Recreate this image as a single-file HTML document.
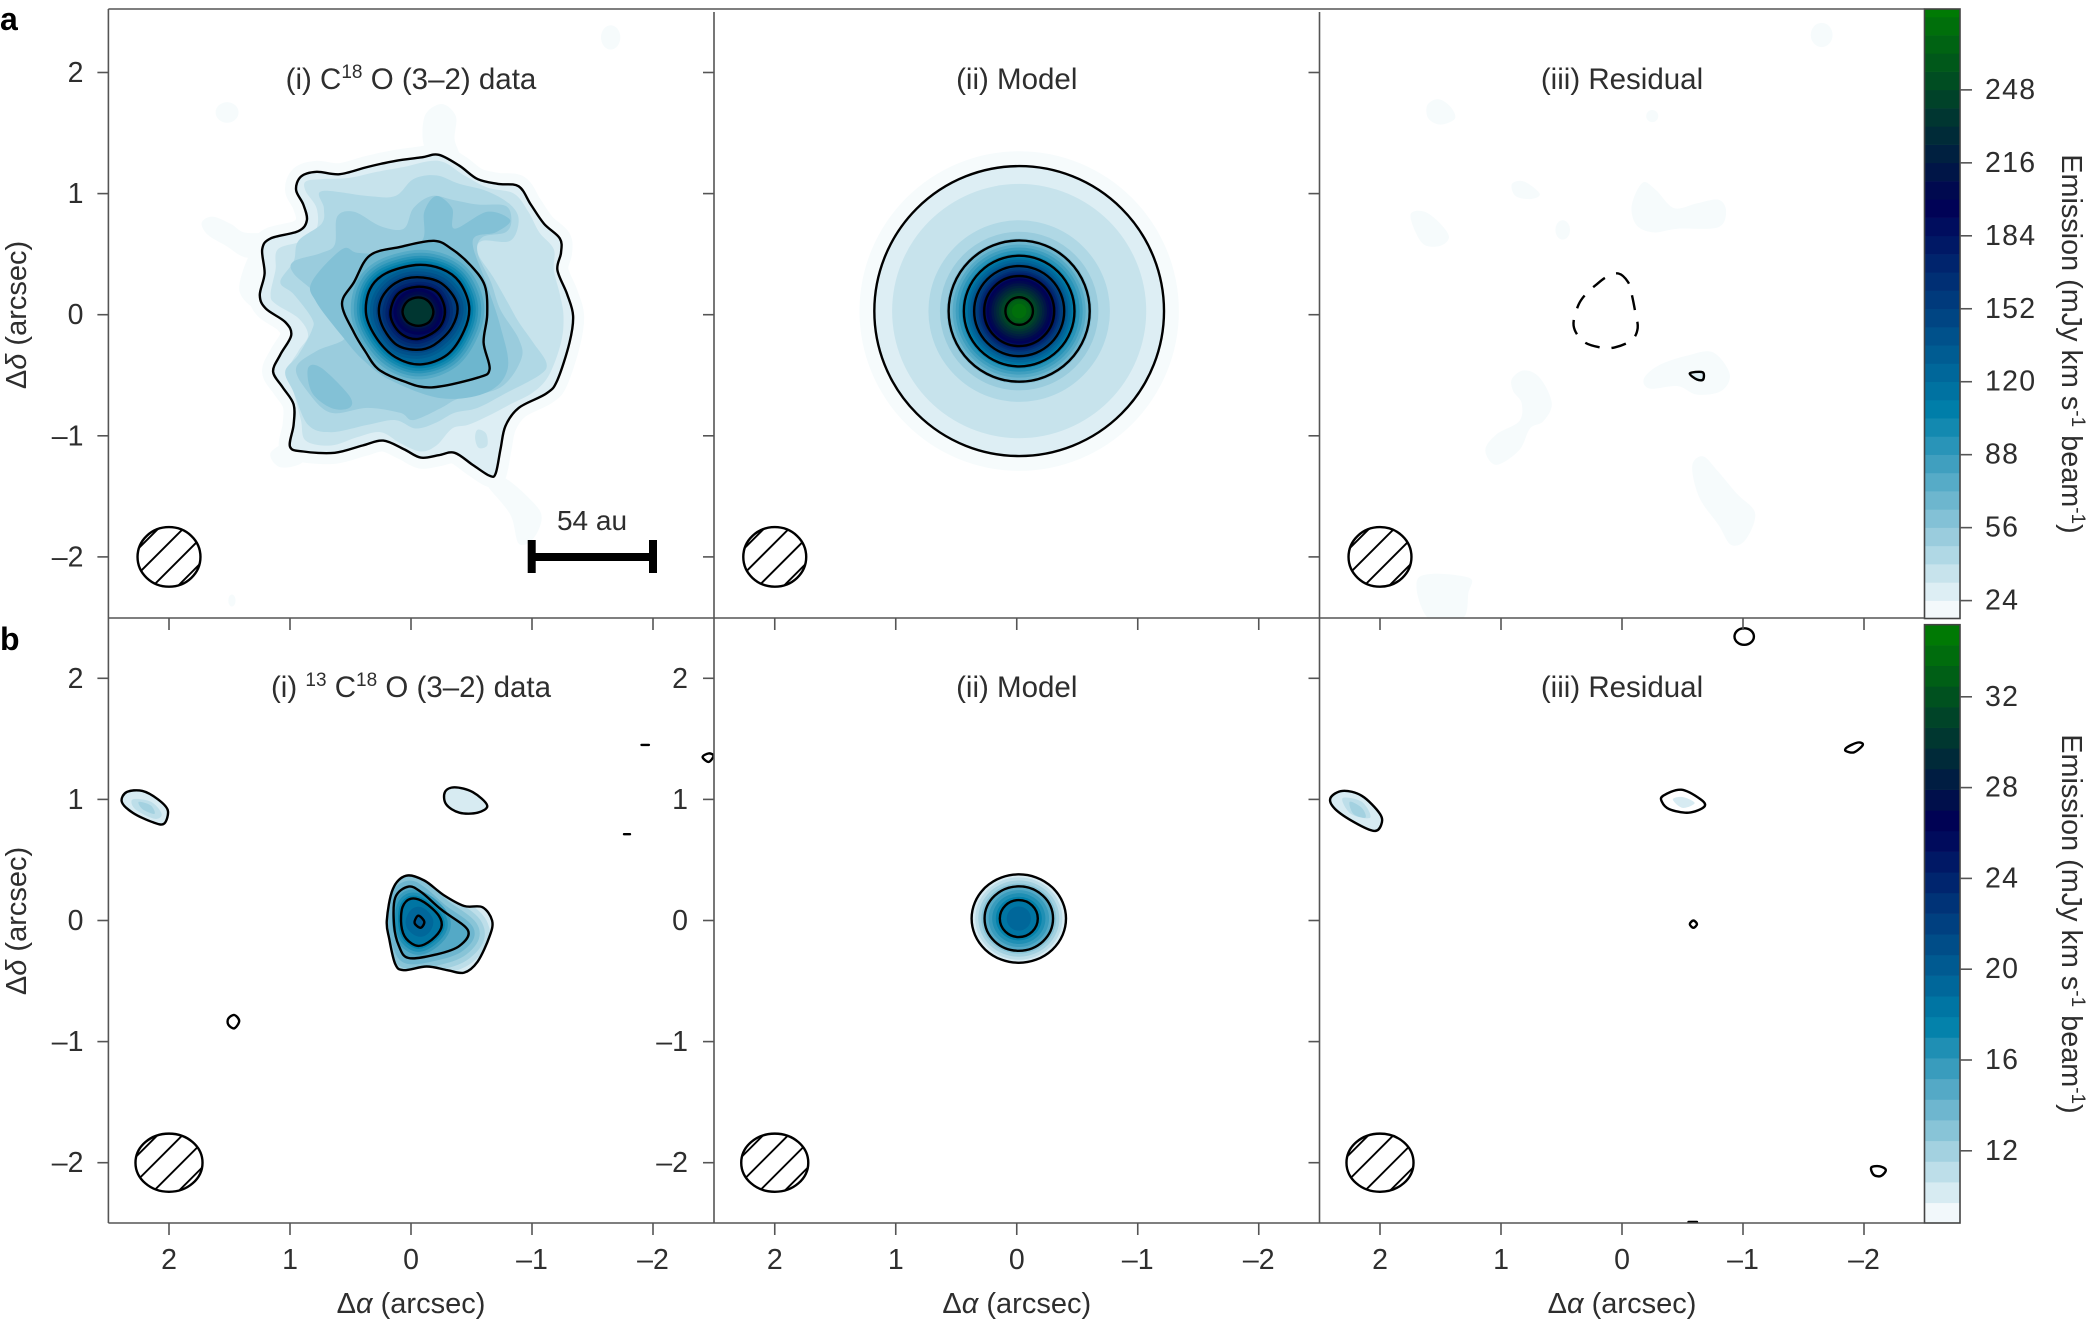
<!DOCTYPE html>
<html lang="en">
<head>
<meta charset="utf-8">
<title>C18O and 13C18O emission maps</title>
<style>
html,body{margin:0;padding:0;background:#fff;}
svg{display:block;}
text{font-family:"Liberation Sans","DejaVu Sans",sans-serif;fill:#2e2e2e;}
.tick{font-size:28.5px;}
.cbar-tick{font-size:28.5px;letter-spacing:1.3px;}
.title{font-size:29.5px;text-anchor:middle;}
.axis-title{font-size:29px;text-anchor:middle;}
.cbar-title{font-size:28.8px;text-anchor:middle;}
.sup{font-size:19px;}
</style>
</head>
<body>
<svg id="figure" xmlns="http://www.w3.org/2000/svg" width="2100" height="1326" viewBox="0 0 2100 1326">
<rect x="0" y="0" width="2100" height="1326" fill="#ffffff"/>
<defs id="defs"></defs>
<g id="marks"></g>
<g id="frames"></g>
<g id="labels"></g>

<text x="0" y="30" font-size="32" font-weight="bold" style="fill:#000">a</text>
<text x="0" y="650" font-size="32" font-weight="bold" style="fill:#000">b</text>

<text class="title" x="411" y="89">(i) C<tspan class="sup" dy="-11">18</tspan><tspan dy="11"> O (3–2) data</tspan></text>
<text class="title" x="1016.75" y="89">(ii) Model</text>
<text class="title" x="1622" y="89">(iii) Residual</text>
<text class="title" x="411" y="697">(i) <tspan class="sup" dy="-11">13</tspan><tspan dy="11"> C</tspan><tspan class="sup" dy="-11">18</tspan><tspan dy="11"> O (3–2) data</tspan></text>
<text class="title" x="1016.75" y="697">(ii) Model</text>
<text class="title" x="1622" y="697">(iii) Residual</text>

<text class="axis-title" transform="translate(26,315) rotate(-90)">Δ<tspan font-style="italic">δ</tspan> (arcsec)</text>
<text class="axis-title" transform="translate(26,921) rotate(-90)">Δ<tspan font-style="italic">δ</tspan> (arcsec)</text>
<text class="axis-title" x="411" y="1313">Δ<tspan font-style="italic">α</tspan> (arcsec)</text>
<text class="axis-title" x="1016.75" y="1313">Δ<tspan font-style="italic">α</tspan> (arcsec)</text>
<text class="axis-title" x="1622" y="1313">Δ<tspan font-style="italic">α</tspan> (arcsec)</text>

<text class="cbar-title" transform="translate(2062,344) rotate(90)">Emission (mJy km s<tspan class="sup" dy="-10">-1</tspan><tspan dy="10"> beam</tspan><tspan class="sup" dy="-10">-1</tspan><tspan dy="10">)</tspan></text>
<text class="cbar-title" transform="translate(2062,924) rotate(90)">Emission (mJy km s<tspan class="sup" dy="-10">-1</tspan><tspan dy="10"> beam</tspan><tspan class="sup" dy="-10">-1</tspan><tspan dy="10">)</tspan></text>

<g>
<text x="592" y="530" text-anchor="middle" font-size="28">54 au</text>
<rect x="531.7" y="553" width="121.3" height="8" fill="#000"/>
<rect x="527.7" y="540" width="8" height="33" fill="#000"/>
<rect x="649" y="540" width="8" height="33" fill="#000"/>
</g>
</svg>

<script>
// ---- Axis tick values and labels ----
const offsetTicks = [2, 1, 0, -1, -2];
const offsetTickLabels = ["2", "1", "0", "–1", "–2"];
const cbarATicks = [24, 56, 88, 120, 152, 184, 216, 248];
const cbarBTicks = [12, 16, 20, 24, 28, 32];

// ---- Colour-bar band edges (mJy km/s/beam) ----
const cbarAEdges = [16,24,32,40,48,56,64,72,80,88,96,104,112,120,128,136,144,152,160,168,176,184,192,200,208,216,224,232,240,248,256,264,272,280,288];
const cbarBEdges = [8.8,9.71,10.62,11.53,12.44,13.35,14.26,15.17,16.08,16.99,17.9,18.81,19.72,20.63,21.54,22.45,23.36,24.27,25.18,26.09,27,27.91,28.82,29.73,30.64,31.55,32.46,33.37,34.28,35.19];

// ---- Synthesised beam (arcsec): centre, semi-axes ----
const beamA = [2, -2, 0.26, 0.246];
const beamB = [2, -2, 0.277, 0.24];

// ---- Row a, data panel contours [alpha, delta] in arcsec ----
const aDataOuter = [[-.23,1.32],[-.40,1.23],[-.55,1.12],[-.72,1.08],[-.89,1.06],[-.99,.91],[-1.10,.75],[-1.23,.63],[-1.24,.51],[-1.21,.37],[-1.29,.17],[-1.34,-.01],[-1.31,-.23],[-1.21,-.54],[-1.12,-.65],[-.89,-.77],[-.78,-.92],[-.74,-1.11],[-.70,-1.31],[-.65,-1.33],[-.51,-1.24],[-.36,-1.14],[-.23,-1.16],[-.08,-1.18],[.06,-1.11],[.23,-1.04],[.40,-1.08],[.63,-1.14],[.89,-1.13],[1.00,-1.09],[.97,-.91],[.97,-.74],[1.06,-.60],[1.14,-.47],[1.08,-.33],[.99,-.17],[1.04,-.06],[1.20,.05],[1.25,.16],[1.21,.34],[1.23,.54],[1.16,.63],[.93,.69],[.86,.78],[.89,.91],[.95,1.03],[.91,1.14],[.78,1.18],[.59,1.16],[.36,1.22],[.13,1.27],[-.09,1.30]];
const aDataLevel32 = [[-.23,1.27],[-.44,1.15],[-.63,1.05],[-.85,1.00],[-.97,.85],[-1.06,.68],[-1.18,.54],[-1.18,.37],[-1.23,.17],[-1.26,-.01],[-1.24,-.23],[-1.14,-.50],[-1.01,-.64],[-.82,-.74],[-.63,-.84],[-.47,-.91],[-.34,-.94],[-.21,-1.08],[-.08,-1.13],[.09,-1.06],[.25,-.97],[.44,-1.01],[.66,-1.08],[.87,-1.04],[.91,-.87],[.97,-.64],[1.02,-.47],[.93,-.30],[.85,-.17],[.93,-.03],[1.12,.09],[1.16,.17],[1.12,.37],[1.10,.54],[.89,.61],[.78,.71],[.78,.88],[.87,1.02],[.87,1.10],[.74,1.12],[.51,1.13],[.28,1.18],[.06,1.22]];
const aDataPatch32 = [[-.55,-.95],[-.62,-.98],[-.63,-1.08],[-.56,-1.10],[-.53,-1.02]];
const aDataLevel40 = [[.74,1.02],[.36,.98],[.13,.98],[-.02,1.12],[-.21,1.15],[-.40,1.08],[-.63,1.02],[-.82,.91],[-.89,.78],[-.82,.61],[-.59,.61],[-.55,.51],[-.68,.31],[-.80,.10],[-.89,-.06],[-1.01,-.23],[-1.12,-.40],[-1.06,-.50],[-.78,-.65],[-.55,-.77],[-.36,-.81],[-.21,-.89],[-.04,-.94],[.13,-.87],[.36,-.91],[.66,-.97],[.85,-.91],[.97,-.64],[1.04,-.47],[.93,-.33],[.82,-.13],[.82,-.03],[.97,.17],[1.08,.27],[.97,.44],[.93,.61],[.74,.75],[.72,.88]];
const aDataLevel48 = [[.61,.81],[.47,.85],[.25,.73],[.06,.71],[-.02,.88],[-.17,.98],[-.34,.95],[-.55,.91],[-.78,.90],[-.83,.78],[-.78,.68],[-.59,.64],[-.55,.51],[-.66,.27],[-.74,.04],[-.89,-.20],[-.91,-.37],[-.74,-.60],[-.40,-.69],[-.25,-.77],[-.02,-.87],[.09,-.81],[.36,-.77],[.66,-.81],[.85,-.64],[.95,-.44],[.78,-.30],[.55,-.20],[.59,-.06],[.78,.17],[.97,.34],[.97,.44],[.74,.51],[.63,.58]];
const aDataLevel56 = [[-.11,.85],[-.21,.98],[-.34,.88],[-.36,.71],[-.63,.85],[-.82,.78],[-.70,.68],[-.51,.61],[-.63,.24],[-.74,-.10],[-.80,-.44],[-.63,-.64],[-.25,-.69],[.17,-.54],[.40,-.37],[.55,-.20],[.78,.10],[.82,.27],[.57,.54],[.44,.51],[.17,.51],[-.09,.61]];
const aDataPatch56 = [[.85,-.44],[.74,-.44],[.51,-.67],[.51,-.77],[.66,-.77],[.82,-.64]];
const aDataInner = [[-.19,.61],[-.34,.54],[-.49,.41],[-.61,.24],[-.63,0],[-.60,-.23],[-.65,-.45],[-.55,-.52],[-.17,-.60],[.06,-.55],[.27,-.45],[.38,-.30],[.47,-.15],[.57,.09],[.47,.27],[.34,.49],[.09,.56]];
const aDataRing1 = [[-.04,.41],[-.25,.38],[-.40,.27],[-.48,.07],[-.44,-.13],[-.30,-.33],[-.08,-.41],[.13,-.35],[.28,-.20],[.37,0],[.34,.21],[.21,.34]];
const aDataRing2 = [[-.05,.31],[-.25,.26],[-.38,.09],[-.34,-.10],[-.19,-.25],[-.04,-.29],[.13,-.24],[.25,-.06],[.25,.12],[.13,.26]];
const aDataRing3 = [[-.05,.23],[-.21,.19],[-.28,.04],[-.23,-.11],[-.06,-.20],[.09,-.15],[.17,0],[.11,.17]];
const aDataRing4 = [[-.06,.143],[-.145,.11],[-.185,.025],[-.15,-.06],[-.06,-.092],[.03,-.06],[.07,.025],[.03,.11]];
const aDataFaint = [
  [[-.13,1.35],[-.11,1.63],[-.25,1.74],[-.37,1.64],[-.36,1.45],[-.40,1.27]],
  [[1.73,.76],[1.64,.81],[1.49,.75],[1.38,.68],[1.16,.66],[1.12,.54],[1.35,.47],[1.53,.57],[1.68,.66]],
  [[1.42,.21],[1.27,.58],[1.10,.30],[1.23,.04]],
  [[1.16,-1.14],[.97,-1.04],[.89,-1.21],[1.08,-1.26]],
  [[-.63,-1.33],[-.78,-1.35],[-1.01,-1.55],[-1.08,-1.68],[-1.01,-1.85],[-.89,-1.89],[-.82,-1.65],[-.63,-1.41]]
];
const aDataFaintBlobs = [[1.52,1.67,.095,.085],[-1.65,2.29,.08,.10],[1.48,-2.36,.03,.05]];

// ---- Row a, model: band [level, radius] and black contour radii, arcsec ----
const aModelCentre = [-.02, .03];
const aModelBandLevels = [16,24,32,40,48,56,64,72,80,88,96,104,112,120,128,136,144,152,160,168,176,184,192,200,208,216,224,232,240,248,256,264,272];
const aModelBandRadii = [1.32,1.20,1.05,.75,.655,.60,.575,.55,.525,.50,.475,.457,.44,.425,.405,.39,.372,.355,.335,.32,.305,.289,.27,.25,.23,.21,.19,.17,.15,.13,.114,.09,.06];
const aModelContours = [1.197,.583,.457,.372,.289,.114];

// ---- Row a, residual ----
const aResidBlobs = [[-1.65,2.31,.09,.10],[-.25,1.64,.05,.05],[.49,.70,.06,.08]];
const aResidPatches = [
  [[1.745,.835],[1.63,.85],[1.50,.75],[1.43,.64],[1.50,.57],[1.63,.575],[1.71,.69]],
  [[.91,1.08],[.81,1.10],[.68,1.00],[.75,.955],[.88,.98]],
  [[1.61,1.73],[1.52,1.78],[1.42,1.72],[1.38,1.62],[1.50,1.57],[1.60,1.62]],
  [[-.08,.90],[-.17,1.09],[-.28,1.03],[-.43,.88],[-.62,.92],[-.80,.95],[-.86,.85],[-.79,.72],[-.46,.71],[-.26,.68],[-.12,.74]],
  [[-.18,-.53],[-.30,-.42],[-.53,-.34],[-.75,-.31],[-.89,-.49],[-.82,-.63],[-.62,-.66],[-.46,-.59],[-.23,-.61]],
  [[.91,-.53],[.81,-.46],[.68,-.52],[.58,-.73],[.65,-.88],[.76,-.94],[.85,-1.12],[1.04,-1.24],[1.13,-1.12],[1.04,-.99],[.85,-.88],[.83,-.73],[.90,-.63]],
  [[-.58,-1.25],[-.67,-1.17],[-.79,-1.29],[-.95,-1.48],[-1.10,-1.64],[-1.02,-1.86],[-.90,-1.90],[-.80,-1.74],[-.64,-1.51]],
  [[1.68,-2.17],[1.27,-2.17],[1.27,-2.30],[1.32,-2.51],[1.60,-2.51]]
];
const aResidPeak = [[-.56,-.485],[-.665,-.475],[-.67,-.535],[-.62,-.535]];
const aResidDashed = [[.03,.34],[-.05,.27],[-.08,.17],[-.11,.02],[-.13,-.11],[-.08,-.21],[.06,-.27],[.18,-.27],[.32,-.22],[.40,-.09],[.36,.08],[.29,.18],[.21,.25],[.13,.31]];

// ---- Row b, data ----
const bDataOuter = [[.04,.37],[-.11,.33],[-.27,.21],[-.44,.12],[-.59,.11],[-.67,0],[-.65,-.13],[-.55,-.34],[-.44,-.43],[-.30,-.41],[-.13,-.38],[.06,-.41],[.13,-.36],[.18,-.15],[.20,0],[.15,.26]];
const bDataRing1 = [[.02,.28],[-.09,.23],[-.25,.09],[-.47,-.08],[-.40,-.21],[-.21,-.28],[.02,-.31],[.10,-.21],[.14,-.04],[.13,.19]];
const bDataRing2 = [[0,.18],[-.11,.15],[-.23,.04],[-.25,-.06],[-.17,-.16],[-.06,-.21],[.04,-.15],[.08,-.04],[.07,.11]];
const bDataRing3 = [[-.06,.04],[-.11,-.01],[-.08,-.06],[-.03,-.02]];
const bDataBlobLeft = [[2.35,1.06],[2.22,1.07],[2.09,1.00],[2.01,.91],[2.04,.80],[2.13,.81],[2.30,.89],[2.39,.98]];
const bDataBlobLeftMid = [[2.30,1.0],[2.15,.98],[2.06,.88],[2.12,.84],[2.28,.92]];
const bDataBlobLeftCore = [[2.25,.98],[2.15,.95],[2.12,.88],[2.22,.92]];
const bDataBlobRight = [[-.28,1.06],[-.36,1.10],[-.51,1.06],[-.63,.95],[-.55,.89],[-.40,.89],[-.29,.96]];
const bDataSmall = [
  [[1.51,-.81],[1.46,-.78],[1.42,-.83],[1.46,-.89],[1.51,-.86]],
  [[-2.41,1.35],[-2.46,1.38],[-2.50,1.36],[-2.46,1.31]],
  [[-1.905,1.45],[-1.966,1.45]],
  [[-1.76,.713],[-1.81,.713]]
];

// ---- Row b, model ----
const bModelCentre = [-.017, .016];
const bModelBandLevels = [9.8,10.7,11.6,12.5,13.4,14.3,15.2,16.1,17.0,17.9,18.9];
const bModelBandRx = [.39,.36,.335,.31,.29,.283,.25,.22,.19,.157,.10];
const bModelBandRy = [.365,.34,.315,.29,.275,.266,.235,.21,.18,.153,.10];
const bModelContourRx = [.39,.283,.157];
const bModelContourRy = [.365,.266,.153];

// ---- Row b, residual ----
const bResidBlobLeft = [[2.41,1.01],[2.31,1.07],[2.15,1.03],[2.0,.88],[1.99,.79],[2.05,.74],[2.21,.81],[2.37,.92]];
const bResidBlobLeftMid = [[2.31,1.01],[2.15,.98],[2.08,.85],[2.24,.88]];
const bResidBlobLeftCore = [[2.25,.98],[2.15,.93],[2.12,.85],[2.22,.88]];
const bResidBlobRight = [[-.34,1.03],[-.49,1.08],[-.65,1.0],[-.68,.94],[-.55,.89],[-.39,.92],[-.33,.98]];
const bResidBlobRightCore = [[-.42,1.0],[-.5,1.02],[-.6,.97],[-.5,.93]];
const bResidSmall = [
  [[-1.01,2.413],[-1.067,2.393],[-1.09,2.345],[-1.067,2.297],[-1.01,2.277],[-.953,2.297],[-.93,2.345],[-.953,2.393]],
  [[-1.86,1.43],[-1.95,1.47],[-1.99,1.45],[-1.92,1.39],[-1.85,1.40]],
  [[-.59,0],[-.62,-.03],[-.59,-.06],[-.56,-.03]],
  [[-2.06,-2.04],[-2.13,-2.03],[-2.18,-2.06],[-2.14,-2.11],[-2.08,-2.10]],
  [[-.55,-2.49],[-.62,-2.49]]
];

// ---- Layout ----
const SVGNS = "http://www.w3.org/2000/svg";
const marks = document.getElementById("marks");
const frames = document.getElementById("frames");
const labels = document.getElementById("labels");
const defs = document.getElementById("defs");
const SX = 121, SY = 121.1;
const columnCentres = [411, 1016.75, 1622];
const rowCentres = [314.7, 920.5];
const LEFT = 108.4, DIV1 = 714, DIV2 = 1319.5, CBL = 1924.5, CBR = 1960;
const TOP = 9, MID = 618, BOTTOM = 1223;
const AXIS = "#555555";

function xAxis(col, a) { return columnCentres[col] - a * SX; }
function yAxis(row, d) { return rowCentres[row] - d * SY; }
function cbarAY(v) { return 600.6 - (v - 24) * 2.28; }
function cbarBY(v) { return 1150.8 - (v - 12) * 22.7; }

function ocean(x) {
  const r = Math.max(0, 3 * x - 2), g = Math.abs(3 * x - 1) / 2, b = x;
  return "rgb(" + Math.round(255 * r) + "," + Math.round(255 * g) + "," + Math.round(255 * b) + ")";
}
function bandColor(edges, v) {
  let i = 0;
  while (i < edges.length - 2 && edges[i + 1] <= v) i++;
  if (i === 0) return "#f6fbfc";
  return ocean(1 - (i + 0.5) / (edges.length - 1));
}
function make(tag, attrs, parent) {
  const el = document.createElementNS(SVGNS, tag);
  for (const k in attrs) el.setAttribute(k, attrs[k]);
  (parent || marks).appendChild(el);
  return el;
}
function smoothPath(col, row, pts) {
  const p = pts.map(q => [xAxis(col, q[0]), yAxis(row, q[1])]);
  const n = p.length;
  let d = "M" + p[0][0].toFixed(1) + " " + p[0][1].toFixed(1);
  for (let i = 0; i < n; i++) {
    const a = p[(i - 1 + n) % n], b = p[i], c = p[(i + 1) % n], e = p[(i + 2) % n];
    const c1x = b[0] + (c[0] - a[0]) / 6, c1y = b[1] + (c[1] - a[1]) / 6;
    const c2x = c[0] - (e[0] - b[0]) / 6, c2y = c[1] - (e[1] - b[1]) / 6;
    d += "C" + c1x.toFixed(1) + " " + c1y.toFixed(1) + " " + c2x.toFixed(1) + " " + c2y.toFixed(1) + " " + c[0].toFixed(1) + " " + c[1].toFixed(1);
  }
  return d + "Z";
}
function panelGroup(name, col, row) {
  const id = "clip-" + name;
  const cp = make("clipPath", { id: id }, defs);
  make("rect", {
    x: columnCentres[col] - 302.75,
    y: row === 0 ? TOP : MID,
    width: 605.5,
    height: row === 0 ? MID - TOP : BOTTOM - MID
  }, cp);
  const g = make("g", { "clip-path": "url(#" + id + ")" });
  
  
  return g;
}
function band(g, col, row, pts, edges, level, spread) {
  const color = bandColor(edges, level);
  const el = make("path", {
    d: smoothPath(col, row, pts),
    fill: color,
    stroke: spread ? color : "none",
    "stroke-width": spread ? spread * 2 : 0,
    "stroke-linejoin": "round"
  }, g);
  
  
  return el;
}
function blob(g, col, row, b, edges, level) {
  const el = make("ellipse", {
    cx: xAxis(col, b[0]),
    cy: yAxis(row, b[1]),
    rx: b[2] * SX,
    ry: b[3] * SY,
    fill: bandColor(edges, level)
  }, g);
  
  
}
function contour(g, col, row, pts, dashed) {
  const el = make("path", {
    d: smoothPath(col, row, pts),
    fill: "none",
    stroke: "#000",
    "stroke-width": 2.4,
    "stroke-linejoin": "round"
  }, g);
  if (dashed) el.setAttribute("stroke-dasharray", "15 12");
  
  
}
function ringLine(g, col, row, c, rx, ry) {
  const el = make("ellipse", {
    cx: xAxis(col, c[0]),
    cy: yAxis(row, c[1]),
    rx: rx * SX,
    ry: ry * SY,
    fill: "none",
    stroke: "#000",
    "stroke-width": 2.4
  }, g);
  
  
}
function ringFill(g, col, row, c, rx, ry, color) {
  const el = make("ellipse", {
    cx: xAxis(col, c[0]),
    cy: yAxis(row, c[1]),
    rx: rx * SX,
    ry: ry * SY,
    fill: color
  }, g);
  
  
}
function beam(g, name, col, row, b) {
  const cx = xAxis(col, b[0]), cy = yAxis(row, b[1]);
  const rx = b[2] * SX, ry = b[3] * SY;
  const beamGroup = make("g", {}, g);
  
  
  const cp = make("clipPath", { id: "beam-" + name }, defs);
  make("ellipse", { cx: cx, cy: cy, rx: rx, ry: ry }, cp);
  const hatch = make("g", { "clip-path": "url(#beam-" + name + ")", stroke: "#000", "stroke-width": 1.9 }, beamGroup);
  [-39, -14, 13, 38].forEach(off => {
    make("line", { x1: cx - 60, y1: cy + off + 60, x2: cx + 60, y2: cy + off - 60 }, hatch);
  });
  make("ellipse", { cx: cx, cy: cy, rx: rx, ry: ry, fill: "none", stroke: "#000", "stroke-width": 2.4 }, beamGroup);
}

// ---- Row a, data panel ----
const gA1 = panelGroup("panel-a-data", 0, 0);
aDataFaint.forEach(p => band(gA1, 0, 0, p, cbarAEdges, 16, 0));
aDataFaintBlobs.forEach(b => blob(gA1, 0, 0, b, cbarAEdges, 16));
band(gA1, 0, 0, aDataOuter, cbarAEdges, 16, 11);
band(gA1, 0, 0, aDataOuter, cbarAEdges, 24, 0);
band(gA1, 0, 0, aDataLevel32, cbarAEdges, 32, 0);
band(gA1, 0, 0, aDataPatch32, cbarAEdges, 32, 0);
band(gA1, 0, 0, aDataLevel40, cbarAEdges, 40, 0);
band(gA1, 0, 0, aDataLevel48, cbarAEdges, 48, 0);
band(gA1, 0, 0, aDataLevel56, cbarAEdges, 56, 0);
band(gA1, 0, 0, aDataPatch56, cbarAEdges, 56, 0);
band(gA1, 0, 0, aDataInner, cbarAEdges, 64, 0);
band(gA1, 0, 0, aDataRing1, cbarAEdges, 72, 15);
band(gA1, 0, 0, aDataRing1, cbarAEdges, 80, 12);
band(gA1, 0, 0, aDataRing1, cbarAEdges, 88, 9);
band(gA1, 0, 0, aDataRing1, cbarAEdges, 96, 6.5);
band(gA1, 0, 0, aDataRing1, cbarAEdges, 104, 4);
band(gA1, 0, 0, aDataRing1, cbarAEdges, 112, 2);
band(gA1, 0, 0, aDataRing1, cbarAEdges, 120, 0);
band(gA1, 0, 0, aDataRing2, cbarAEdges, 128, 9);
band(gA1, 0, 0, aDataRing2, cbarAEdges, 136, 6);
band(gA1, 0, 0, aDataRing2, cbarAEdges, 144, 3);
band(gA1, 0, 0, aDataRing2, cbarAEdges, 152, 0);
band(gA1, 0, 0, aDataRing3, cbarAEdges, 160, 8);
band(gA1, 0, 0, aDataRing3, cbarAEdges, 168, 5);
band(gA1, 0, 0, aDataRing3, cbarAEdges, 176, 2.5);
band(gA1, 0, 0, aDataRing3, cbarAEdges, 184, 0);
band(gA1, 0, 0, aDataRing4, cbarAEdges, 192, 9);
band(gA1, 0, 0, aDataRing4, cbarAEdges, 200, 6);
band(gA1, 0, 0, aDataRing4, cbarAEdges, 208, 3);
band(gA1, 0, 0, aDataRing4, cbarAEdges, 232, 0);
[aDataOuter, aDataInner, aDataRing1, aDataRing2, aDataRing3, aDataRing4].forEach(p => contour(gA1, 0, 0, p));
beam(gA1, "a1", 0, 0, beamA);

// ---- Row a, model panel ----
const gA2 = panelGroup("panel-a-model", 1, 0);
aModelBandLevels.forEach((lv, i) => {
  ringFill(gA2, 1, 0, aModelCentre, aModelBandRadii[i], aModelBandRadii[i], bandColor(cbarAEdges, lv));
});
aModelContours.forEach(r => ringLine(gA2, 1, 0, aModelCentre, r, r));
beam(gA2, "a2", 1, 0, beamA);

// ---- Row a, residual panel ----
const gA3 = panelGroup("panel-a-residual", 2, 0);
aResidBlobs.forEach(b => blob(gA3, 2, 0, b, cbarAEdges, 16));
aResidPatches.forEach(p => band(gA3, 2, 0, p, cbarAEdges, 16, 0));
band(gA3, 2, 0, aResidPeak, cbarAEdges, 24, 0);
contour(gA3, 2, 0, aResidPeak);
contour(gA3, 2, 0, aResidDashed, true);
beam(gA3, "a3", 2, 0, beamA);

// ---- Row b, data panel ----
const gB1 = panelGroup("panel-b-data", 0, 1);
const outerClip = make("clipPath", { id: "b-data-outer" }, defs);
make("path", { d: smoothPath(0, 1, bDataOuter) }, outerClip);
band(gB1, 0, 1, bDataOuter, cbarBEdges, 9.8, 0);
const gB1Inner = make("g", { "clip-path": "url(#b-data-outer)" }, gB1);


band(gB1Inner, 0, 1, bDataRing1, cbarBEdges, 10.7, 21);
band(gB1Inner, 0, 1, bDataRing1, cbarBEdges, 11.6, 16);
band(gB1Inner, 0, 1, bDataRing1, cbarBEdges, 12.5, 11);
band(gB1Inner, 0, 1, bDataRing1, cbarBEdges, 13.4, 6);
band(gB1Inner, 0, 1, bDataRing1, cbarBEdges, 14.3, 0);
band(gB1Inner, 0, 1, bDataRing2, cbarBEdges, 15.2, 9);
band(gB1Inner, 0, 1, bDataRing2, cbarBEdges, 16.1, 6);
band(gB1Inner, 0, 1, bDataRing2, cbarBEdges, 17.0, 3);
band(gB1Inner, 0, 1, bDataRing2, cbarBEdges, 17.9, 0);
band(gB1Inner, 0, 1, bDataRing3, cbarBEdges, 18.9, 9);
band(gB1Inner, 0, 1, bDataRing3, cbarBEdges, 19.8, 0);
band(gB1, 0, 1, bDataBlobLeft, cbarBEdges, 9.8, 0);
band(gB1, 0, 1, bDataBlobLeftMid, cbarBEdges, 10.7, 0);
band(gB1, 0, 1, bDataBlobLeftCore, cbarBEdges, 11.6, 0);
band(gB1, 0, 1, bDataBlobRight, cbarBEdges, 9.8, 0);
[bDataOuter, bDataRing1, bDataRing2, bDataRing3, bDataBlobLeft, bDataBlobRight].forEach(p => contour(gB1, 0, 1, p));
bDataSmall.forEach(p => contour(gB1, 0, 1, p));
beam(gB1, "b1", 0, 1, beamB);

// ---- Row b, model panel ----
const gB2 = panelGroup("panel-b-model", 1, 1);
bModelBandLevels.forEach((lv, i) => {
  ringFill(gB2, 1, 1, bModelCentre, bModelBandRx[i], bModelBandRy[i], bandColor(cbarBEdges, lv));
});
bModelContourRx.forEach((r, i) => ringLine(gB2, 1, 1, bModelCentre, r, bModelContourRy[i]));
beam(gB2, "b2", 1, 1, beamB);

// ---- Row b, residual panel ----
const gB3 = panelGroup("panel-b-residual", 2, 1);
band(gB3, 2, 1, bResidBlobLeft, cbarBEdges, 9.8, 0);
band(gB3, 2, 1, bResidBlobLeftMid, cbarBEdges, 10.7, 0);
band(gB3, 2, 1, bResidBlobLeftCore, cbarBEdges, 11.6, 0);
band(gB3, 2, 1, bResidBlobRightCore, cbarBEdges, 9.8, 0);
[bResidBlobLeft, bResidBlobRight].forEach(p => contour(gB3, 2, 1, p));
bResidSmall.forEach(p => contour(gB3, 2, 1, p));
beam(gB3, "b3", 2, 1, beamB);

// ---- Colour bars ----
function colorbar(name, edges, yFn, top, bottom, ticks) {
  const g = make("g", {}, frames);
  
  
  const n = edges.length - 1;
  for (let i = 0; i < n; i++) {
    const y1 = Math.min(bottom, yFn(edges[i]));
    const y2 = Math.max(top, yFn(edges[i + 1]));
    if (y1 <= y2) continue;
    const r = make("rect", {
      x: CBL, y: y2, width: CBR - CBL, height: y1 - y2 + 0.3,
      fill: ocean(1 - (i + 0.5) / n)
    }, g);
    
    
  }
  const box = make("rect", {
    x: CBL, y: top, width: CBR - CBL, height: bottom - top,
    fill: "none", stroke: "#444", "stroke-width": 1.6
  }, g);
  
  
  ticks.forEach(t => {
    const y = yFn(t);
    const tk = make("line", { x1: CBR, x2: CBR + 12, y1: y, y2: y, stroke: AXIS, "stroke-width": 1.6 }, g);
    
    
    const tx = make("text", { x: 1985, y: y + 9, class: "cbar-tick" }, labels);
    tx.textContent = String(t);
    
    
  });
}
colorbar("colorbar-a", cbarAEdges, cbarAY, TOP, 618.5, cbarATicks);
colorbar("colorbar-b", cbarBEdges, cbarBY, 624.7, BOTTOM, cbarBTicks);

// ---- Frames and ticks ----
function frameLine(x1, y1, x2, y2, name) {
  const el = make("line", { x1: x1, y1: y1, x2: x2, y2: y2, stroke: AXIS, "stroke-width": 1.6 }, frames);
  
  
}
frameLine(LEFT, TOP, CBL, TOP, "top-border");
frameLine(LEFT, MID, CBL, MID, "row-divider");
frameLine(LEFT, BOTTOM, CBL, BOTTOM, "bottom-border");
frameLine(LEFT, TOP, LEFT, BOTTOM, "left-border");
frameLine(DIV1, TOP + 3, DIV1, BOTTOM, "panel-divider-1");
frameLine(DIV2, TOP + 3, DIV2, BOTTOM, "panel-divider-2");

[0, 1].forEach(row => {
  offsetTicks.forEach((t, i) => {
    const y = yAxis(row, t);
    frameLine(LEFT - 11, y, LEFT, y, "y-axis-tick");
    frameLine(DIV1 - 11, y, DIV1, y, "y-axis-tick");
    frameLine(DIV2 - 11, y, DIV2, y, "y-axis-tick");
    const lab = make("text", { x: 83.5, y: y + 9.5, class: "tick", "text-anchor": "end" }, labels);
    lab.textContent = offsetTickLabels[i];
    
    
    if (row === 1) {
      const lab2 = make("text", { x: 688, y: y + 9.5, class: "tick", "text-anchor": "end" }, labels);
      lab2.textContent = offsetTickLabels[i];
      
      
    }
  });
});
[0, 1, 2].forEach(col => {
  offsetTicks.forEach((t, i) => {
    const x = xAxis(col, t);
    frameLine(x, MID, x, MID + 12, "x-axis-tick-top");
    frameLine(x, BOTTOM, x, BOTTOM + 12, "x-axis-tick-bottom");
    const lab = make("text", { x: x, y: 1269, class: "tick", "text-anchor": "middle" }, labels);
    lab.textContent = offsetTickLabels[i];
    
    
  });
});
</script>
</body>
</html>
